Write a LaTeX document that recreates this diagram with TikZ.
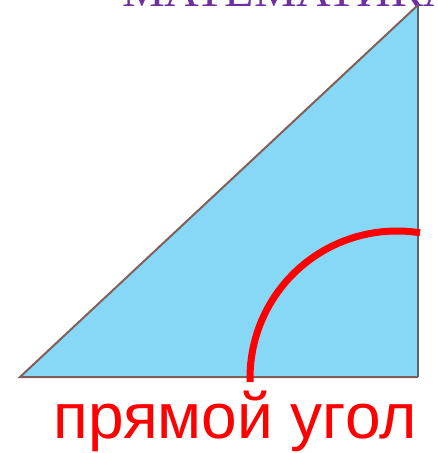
\documentclass[tikz,border=0pt]{standalone}
\usepackage{fontspec}
\setmainfont{Liberation Sans}
\newfontfamily\titlefont{Liberation Serif}
\usetikzlibrary{calc, positioning}

\definecolor{skyfill}{HTML}{87D7F6}
\definecolor{edgebrown}{HTML}{806058}
\definecolor{edgegray}{HTML}{606468}
\definecolor{titlepurple}{HTML}{7030A0}

\begin{document}
\begin{tikzpicture}[x=1pt, y=-1pt]
\def\r{147}

\useasboundingbox (0,0) rectangle (437,453);
\clip (0,0) rectangle (437,453);

\coordinate (A) at (20,377);
\coordinate (B) at (418,377);
\coordinate (C) at (418,5);
\coordinate (M) at (397,378);

% cut-off title at the top
\node[anchor=base west, text=titlepurple, inner sep=0pt,
  font=\titlefont\fontsize{48}{48}\selectfont] (title) at (122,6) {МАТЕМАТИКА};

\fill[skyfill] (A) -- (B) -- (C) -- cycle;
\draw[edgebrown, line width=2pt] (C) -- (A) -- (B);
\draw[edgegray, line width=2pt] (B) -- (C);

% the angle mark
\draw[red, line width=7pt] ($(M)+(-\r,4)$) -- ($(M)+(-\r,0)$)
  arc[start angle=180, end angle=279, radius=\r];

\node[anchor=base, text=red, inner sep=0pt,
  font=\fontsize{64}{64}\selectfont] (label) at (235,438) {прямой угол};
\end{tikzpicture}
\end{document}
